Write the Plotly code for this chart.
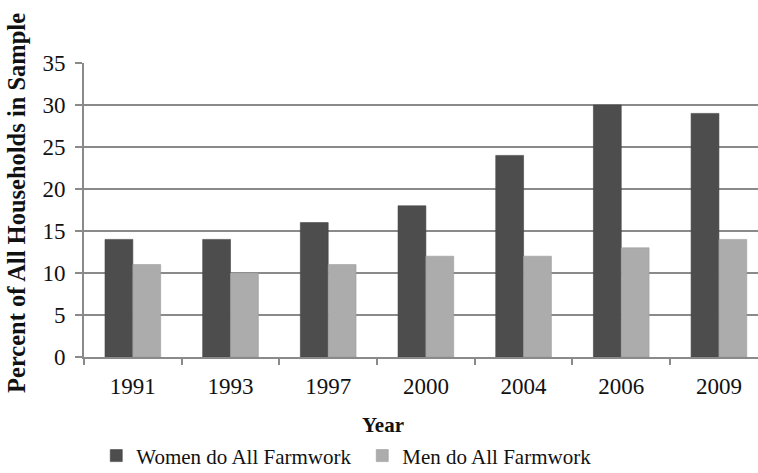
import plotly.graph_objects as go

# Survey years and share of households (%) by who does all the farmwork
years = ["1991", "1993", "1997", "2000", "2004", "2006", "2009"]
women_all = [14, 14, 16, 18, 24, 30, 29]
men_all = [11, 10, 11, 12, 12, 13, 14]

FONT = "Liberation Serif, Times New Roman, serif"
GRID = "#8a8a8a"
INK = "#111111"

fig = go.Figure()
fig.add_trace(go.Bar(
    x=years, y=women_all, name="Women do All Farmwork",
    marker=dict(color="#4d4d4d", line=dict(color="#444444", width=0.6)),
))
fig.add_trace(go.Bar(
    x=years, y=men_all, name="Men do All Farmwork",
    marker=dict(color="#acacac", line=dict(color="#9c9c9c", width=0.6)),
))

fig.update_layout(
    width=758, height=473,
    margin=dict(l=84, r=0, t=63, b=116, autoexpand=False),
    paper_bgcolor="white", plot_bgcolor="white",
    barmode="group", bargap=0.43, bargroupgap=0,
    font=dict(family=FONT, size=22, color=INK),
    showlegend=True,
    legend=dict(
        orientation="h", xref="container", yref="container",
        x=0.127, xanchor="left", y=0.036, yanchor="middle",
        font=dict(family=FONT, size=21, color=INK),
        entrywidth=221, entrywidthmode="pixels",
        itemwidth=30, bgcolor="rgba(0,0,0,0)",
    ),
    xaxis=dict(
        type="category", range=[-0.5, 6.4],
        showgrid=False, showline=True, linecolor=GRID, linewidth=2,
        ticks="outside", tickson="boundaries", ticklen=6, tickwidth=2, tickcolor=GRID,
        tickfont=dict(family=FONT, size=23, color=INK),
        ticklabelstandoff=7,
    ),
    yaxis=dict(
        range=[0, 35], dtick=5, tick0=0,
        showgrid=True, gridcolor=GRID, gridwidth=2,
        showline=True, linecolor=GRID, linewidth=2,
        ticks="outside", ticklen=7, tickwidth=2, tickcolor=GRID,
        tickfont=dict(family=FONT, size=23, color=INK),
        ticklabelstandoff=5, zeroline=False,
    ),
    annotations=[
        dict(text="<b>Year</b>", xref="paper", yref="paper", x=0.4436, y=-0.231,
             showarrow=False, font=dict(family=FONT, size=21, color=INK),
             xanchor="center", yanchor="middle"),
        dict(text="<b>Percent of All Households in Sample</b>", xref="paper", yref="paper",
             x=-0.0994, y=0.524, textangle=-90, showarrow=False,
             font=dict(family=FONT, size=24.5, color=INK),
             xanchor="center", yanchor="middle"),
    ],
)

fig.write_html("out.html")
